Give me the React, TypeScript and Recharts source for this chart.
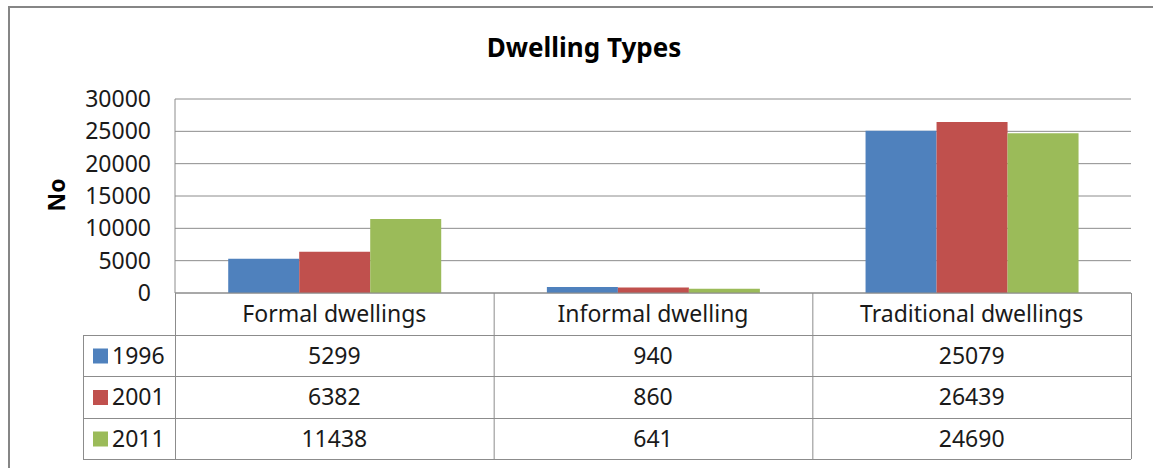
import { BarChart, Bar, XAxis, YAxis, CartesianGrid } from "recharts";

const categories = ["Formal dwellings", "Informal dwelling", "Traditional dwellings"];
const years = ["1996", "2001", "2011"];
const values1996 = [5299, 940, 25079];
const values2001 = [6382, 860, 26439];
const values2011 = [11438, 641, 24690];
const yTicks = [0, 5000, 10000, 15000, 20000, 25000, 30000];

const seriesValues = [values1996, values2001, values2011];
const COLORS = ["#4f81bd", "#c0504d", "#9bbb59"];

const FONT = "'Noto Sans', sans-serif";
const TEXT = "#1a1a1a";
const LINE = "#8c8c8c";

// plot box and data table geometry
const W = 1153;
const H = 468;
const PLOT_LEFT = 175;
const PLOT_RIGHT = 1131;
const PLOT_TOP = 99;
const PLOT_BOTTOM = 293;
const TABLE_LEFT = 83;
const ROWS = [293, 335, 376, 418, 459];
const Y_AXIS_W = 100;
const X_AXIS_H = 42;

const chartData = categories.map((name, i) => ({
  name,
  ...Object.fromEntries(years.map((y, s) => [y, seriesValues[s][i]])),
}));

function Overlay() {
  const colW = (PLOT_RIGHT - PLOT_LEFT) / categories.length;
  const cols = categories.map((_, i) => PLOT_LEFT + i * colW);
  return (
    <svg width={W} height={H} style={{ position: "absolute", left: 0, top: 0, pointerEvents: "none" }}>
      <text x={584} y={57} textAnchor="middle" fontSize={26} fontWeight={700} fontFamily={FONT} fill="#000">
        Dwelling Types
      </text>
      <text x={0} y={0} transform="translate(65 195) rotate(-90)" textAnchor="middle" fontSize={23} fontWeight={700} fontFamily={FONT} fill="#000">
        No
      </text>
      {ROWS.slice(1).map((y) => (
        <line key={y} x1={TABLE_LEFT} x2={PLOT_RIGHT} y1={y + 0.5} y2={y + 0.5} stroke={LINE} strokeWidth={1} />
      ))}
      <line x1={TABLE_LEFT + 0.5} x2={TABLE_LEFT + 0.5} y1={ROWS[1]} y2={ROWS[4]} stroke={LINE} />
      {[...cols.slice(1), PLOT_RIGHT].map((x) => (
        <line key={x} x1={x + 0.5} x2={x + 0.5} y1={ROWS[0]} y2={ROWS[4]} stroke={LINE} />
      ))}
      <line x1={PLOT_LEFT + 0.5} x2={PLOT_LEFT + 0.5} y1={ROWS[0]} y2={ROWS[4]} stroke={LINE} />
      {years.map((year, s) => {
        const cy = (ROWS[s + 1] + ROWS[s + 2]) / 2;
        return (
          <g key={year}>
            <rect x={93} y={cy - 7} width={15} height={15} fill={COLORS[s]} />
            <text x={112} y={cy} dy="0.36em" fontSize={23} fontFamily={FONT} fill={TEXT}>
              {year}
            </text>
            {seriesValues[s].map((v, i) => (
              <text key={i} x={cols[i] + colW / 2} y={cy} dy="0.36em" textAnchor="middle" fontSize={23} fontFamily={FONT} fill={TEXT}>
                {v}
              </text>
            ))}
          </g>
        );
      })}
    </svg>
  );
}

export default function App() {
  return (
    <div style={{ position: "absolute", left: 0, top: 0, width: W, height: H, background: "#fff", overflow: "hidden", fontFamily: FONT }}>
      <div style={{ position: "absolute", left: 8, top: 6, width: 1160, height: 480, border: "2px solid #868686", boxSizing: "border-box" }} />
      <div style={{ position: "absolute", left: 0, top: 0 }}>
        <BarChart
          width={W}
          height={H}
          data={chartData}
          margin={{ top: PLOT_TOP, right: W - PLOT_RIGHT, bottom: H - PLOT_BOTTOM - X_AXIS_H, left: PLOT_LEFT - Y_AXIS_W }}
          barCategoryGap="16.7%"
          barGap={0}
        >
          <CartesianGrid vertical={false} stroke={LINE} strokeWidth={1} />
          <XAxis
            dataKey="name"
            height={X_AXIS_H}
            axisLine={{ stroke: LINE }}
            tickLine={false}
            tickSize={0}
            tickMargin={13}
            tick={{ fontSize: 23, fontFamily: FONT, fill: TEXT }}
            interval={0}
          />
          <YAxis
            width={Y_AXIS_W}
            domain={[0, 30000]}
            ticks={yTicks}
            axisLine={{ stroke: LINE }}
            tickLine={false}
            tickSize={0}
            tickMargin={24}
            tick={{ fontSize: 23, fontFamily: FONT, fill: TEXT }}
          />
          {years.map((y, s) => (
            <Bar key={y} dataKey={y} fill={COLORS[s]} isAnimationActive={false} />
          ))}
        </BarChart>
      </div>
      <Overlay />
    </div>
  );
}
